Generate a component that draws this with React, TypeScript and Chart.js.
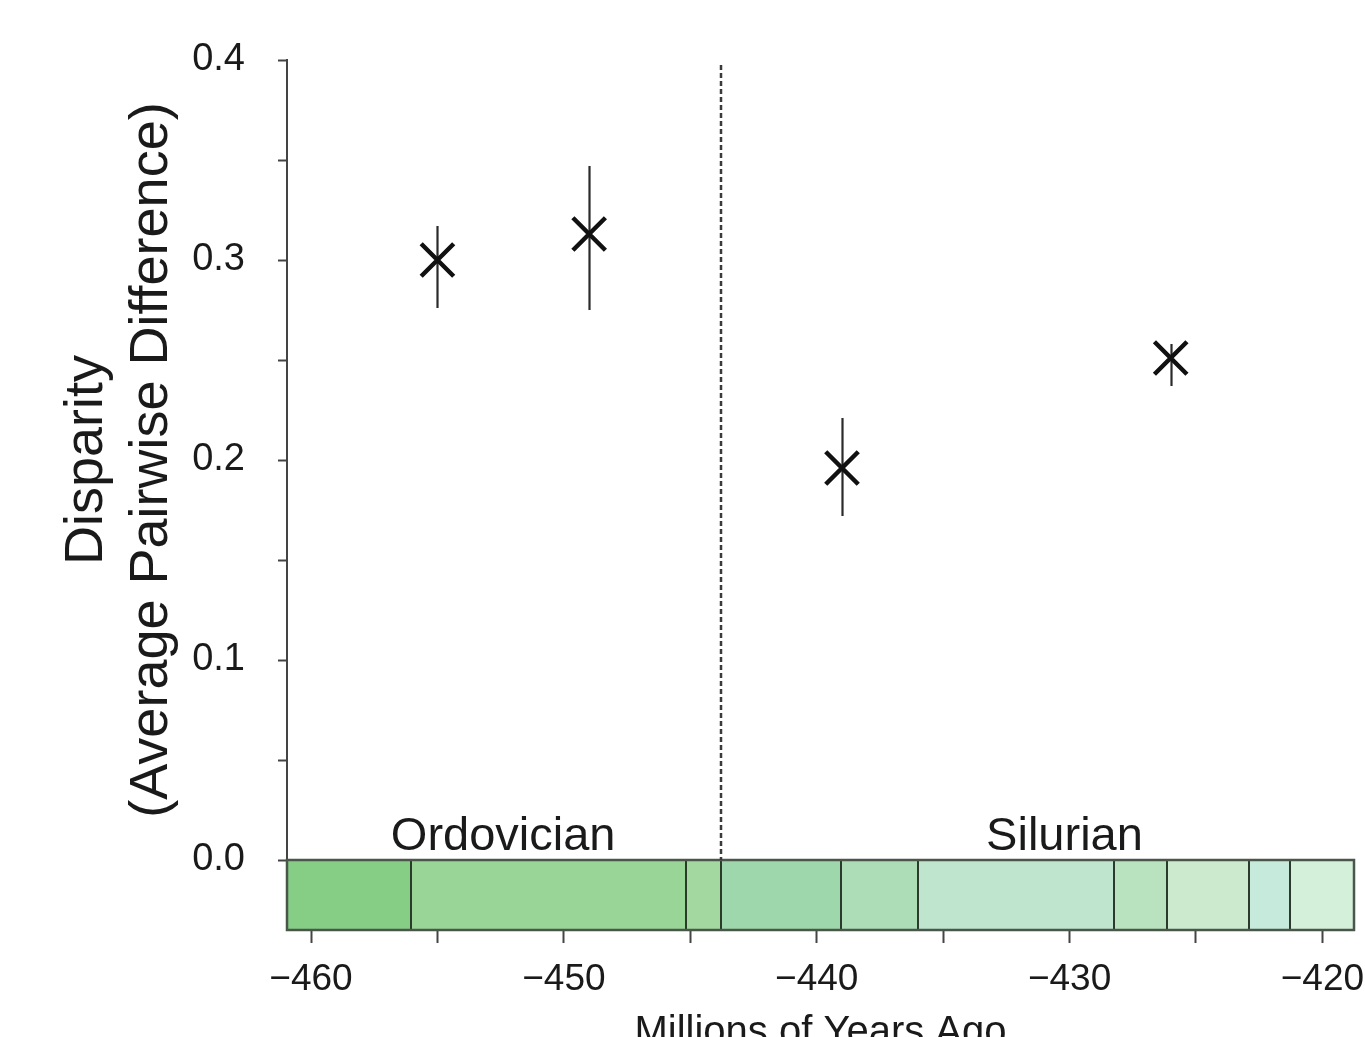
import React, { useEffect, useRef } from "react";
import { Chart, registerables } from "chart.js";

Chart.register(...registerables);

// ---- data ----
const ageMa = [-455.0, -449.0, -439.0, -426.0];
const disparity = [0.3, 0.313, 0.196, 0.251];
const errLow = [0.276, 0.275, 0.172, 0.237];
const errHigh = [0.317, 0.347, 0.221, 0.258];

const stageBounds = [-460.95, -456.05, -445.15, -443.8, -439.05, -436.0, -428.25, -426.15, -422.9, -421.3, -418.75];
const stageColors = ["#86CE86", "#98D597", "#A3D9A0", "#9ED7AB", "#ACDDB6", "#BFE5CF", "#B9E3BE", "#CCEBCE", "#C6EBDC", "#D4EFDA"];

const periodNames = ["Ordovician", "Silurian"];
const periodLabelX = [-452.4, -430.2];
const periodBoundary = -443.8;

const xTicks = [-460, -455, -450, -445, -440, -435, -430, -425, -420];
const yTicks = [0, 0.05, 0.1, 0.15, 0.2, 0.25, 0.3, 0.35, 0.4];

const xTitle = "Millions of Years Ago";
const yTitleLines = ["Disparity", "(Average Pairwise Difference)"];

const FONT = "'Liberation Sans', Arial, Helvetica, sans-serif";

const noPadding = () => ({ left: 0, right: 0, top: 0, bottom: 0 });

export default function App() {
  const ref = useRef<HTMLCanvasElement | null>(null);

  useEffect(() => {
    document.body.style.margin = "0";
    const canvas = ref.current;
    if (!canvas) return;

    const timescalePlugin = {
      id: "timescale",
      beforeDatasetsDraw(chart: any) {
        const { ctx, scales } = chart;
        const xs = scales.x;
        const ys = scales.y;
        const top = ys.getPixelForValue(0);
        const bottom = chart.chartArea.bottom;
        ctx.save();
        for (let i = 0; i < stageColors.length; i++) {
          const x0 = xs.getPixelForValue(stageBounds[i]);
          const x1 = xs.getPixelForValue(stageBounds[i + 1]);
          ctx.fillStyle = stageColors[i];
          ctx.fillRect(x0, top, x1 - x0, bottom - top);
        }
        // dividers
        ctx.strokeStyle = "#2c3a2c";
        ctx.lineWidth = 2;
        for (let i = 1; i < stageBounds.length - 1; i++) {
          const x = Math.round(xs.getPixelForValue(stageBounds[i]));
          ctx.beginPath();
          ctx.moveTo(x, top);
          ctx.lineTo(x, bottom);
          ctx.stroke();
        }
        // outer frame
        const xl = xs.getPixelForValue(stageBounds[0]);
        const xr = xs.getPixelForValue(stageBounds[stageBounds.length - 1]);
        ctx.strokeStyle = "#4a564a";
        ctx.lineWidth = 2.5;
        ctx.strokeRect(xl, top, xr - xl, bottom - top);

        // dashed period boundary
        const xb = Math.round(xs.getPixelForValue(periodBoundary));
        ctx.strokeStyle = "#3a3a3a";
        ctx.lineWidth = 2.5;
        ctx.setLineDash([5, 3]);
        ctx.beginPath();
        ctx.moveTo(xb, ys.getPixelForValue(0.4) + 5);
        ctx.lineTo(xb, top);
        ctx.stroke();
        ctx.setLineDash([]);

        // period labels
        ctx.fillStyle = "#1a1a1a";
        ctx.font = `47px ${FONT}`;
        ctx.textAlign = "center";
        ctx.textBaseline = "alphabetic";
        for (let i = 0; i < periodNames.length; i++) {
          ctx.fillText(periodNames[i], xs.getPixelForValue(periodLabelX[i]), top - 10);
        }

        // error bars
        ctx.strokeStyle = "#2a2a2a";
        ctx.lineWidth = 2.2;
        for (let i = 0; i < ageMa.length; i++) {
          const x = Math.round(xs.getPixelForValue(ageMa[i])) + 0.5;
          ctx.beginPath();
          ctx.moveTo(x, ys.getPixelForValue(errHigh[i]));
          ctx.lineTo(x, ys.getPixelForValue(errLow[i]));
          ctx.stroke();
        }
        ctx.restore();
      },
      afterDraw(chart: any) {
        const { ctx, chartArea } = chart;
        ctx.save();
        ctx.fillStyle = "#1a1a1a";
        ctx.textAlign = "center";
        // x title
        ctx.font = `40px ${FONT}`;
        ctx.textBaseline = "alphabetic";
        ctx.fillText(xTitle, (chartArea.left + chartArea.right) / 2, 1044);
        // y title
        ctx.font = `54px ${FONT}`;
        ctx.textBaseline = "middle";
        const cy = 460;
        const colX = [87, 152];
        for (let i = 0; i < yTitleLines.length; i++) {
          ctx.save();
          ctx.translate(colX[i], cy);
          ctx.rotate(-Math.PI / 2);
          ctx.fillText(yTitleLines[i], 0, 0);
          ctx.restore();
        }
        ctx.restore();
      },
    };

    const chart = new Chart(canvas, {
      type: "scatter",
      data: {
        datasets: [
          {
            data: ageMa.map((x, i) => ({ x, y: disparity[i] })),
            pointStyle: "crossRot",
            pointRadius: 23,
            pointHoverRadius: 23,
            pointBorderWidth: 4.5,
            borderColor: "#111",
            backgroundColor: "#111",
          },
        ],
      },
      options: {
        responsive: false,
        animation: false,
        events: [],
        layout: { autoPadding: false, padding: { top: 60, right: 11, left: 0, bottom: 0 } },
        plugins: { legend: { display: false }, tooltip: { enabled: false }, title: { display: false } },
        scales: {
          x: {
            type: "linear",
            min: stageBounds[0],
            max: stageBounds[stageBounds.length - 1],
            afterBuildTicks: (s: any) => {
              s.ticks = xTicks.map((v) => ({ value: v }));
            },
            afterFit: (s: any) => {
              s.height = 107;
              s.paddingLeft = 0;
              s.paddingRight = 0;
              s.getPadding = noPadding;
            },
            grid: { drawOnChartArea: false, drawTicks: true, tickLength: 13, tickColor: "#444", tickWidth: 2 },
            border: { display: true, color: "#4a564a", width: 2 },
            ticks: {
              autoSkip: false,
              maxRotation: 0,
              padding: 15,
              color: "#1a1a1a",
              font: { size: 37, family: FONT },
              callback: (v: any) => (Number(v) % 10 === 0 ? "\u2212" + Math.abs(Number(v)) : ""),
            },
          },
          y: {
            type: "linear",
            min: -0.035,
            max: 0.4,
            afterBuildTicks: (s: any) => {
              s.ticks = yTicks.map((v) => ({ value: v }));
            },
            afterFit: (s: any) => {
              s.width = 287;
              s.paddingTop = 0;
              s.paddingBottom = 0;
              s.getPadding = noPadding;
            },
            grid: { drawOnChartArea: false, drawTicks: true, tickLength: 9, tickColor: "#444", tickWidth: 2 },
            border: { display: true, color: "#444", width: 2 },
            ticks: {
              autoSkip: false,
              padding: 33,
              color: "#1a1a1a",
              font: { size: 38, family: FONT },
              callback: (v: any) => {
                const n = Number(v);
                return Math.abs(Math.round(n * 10) - n * 10) < 1e-6 ? n.toFixed(1) : "";
              },
            },
          },
        },
      },
      plugins: [timescalePlugin],
    } as any);

    return () => chart.destroy();
  }, []);

  return (
    <div style={{ width: 1365, height: 1037, overflow: "hidden", background: "#fff" }}>
      <canvas ref={ref} width={1365} height={1037} style={{ display: "block" }} />
    </div>
  );
}
